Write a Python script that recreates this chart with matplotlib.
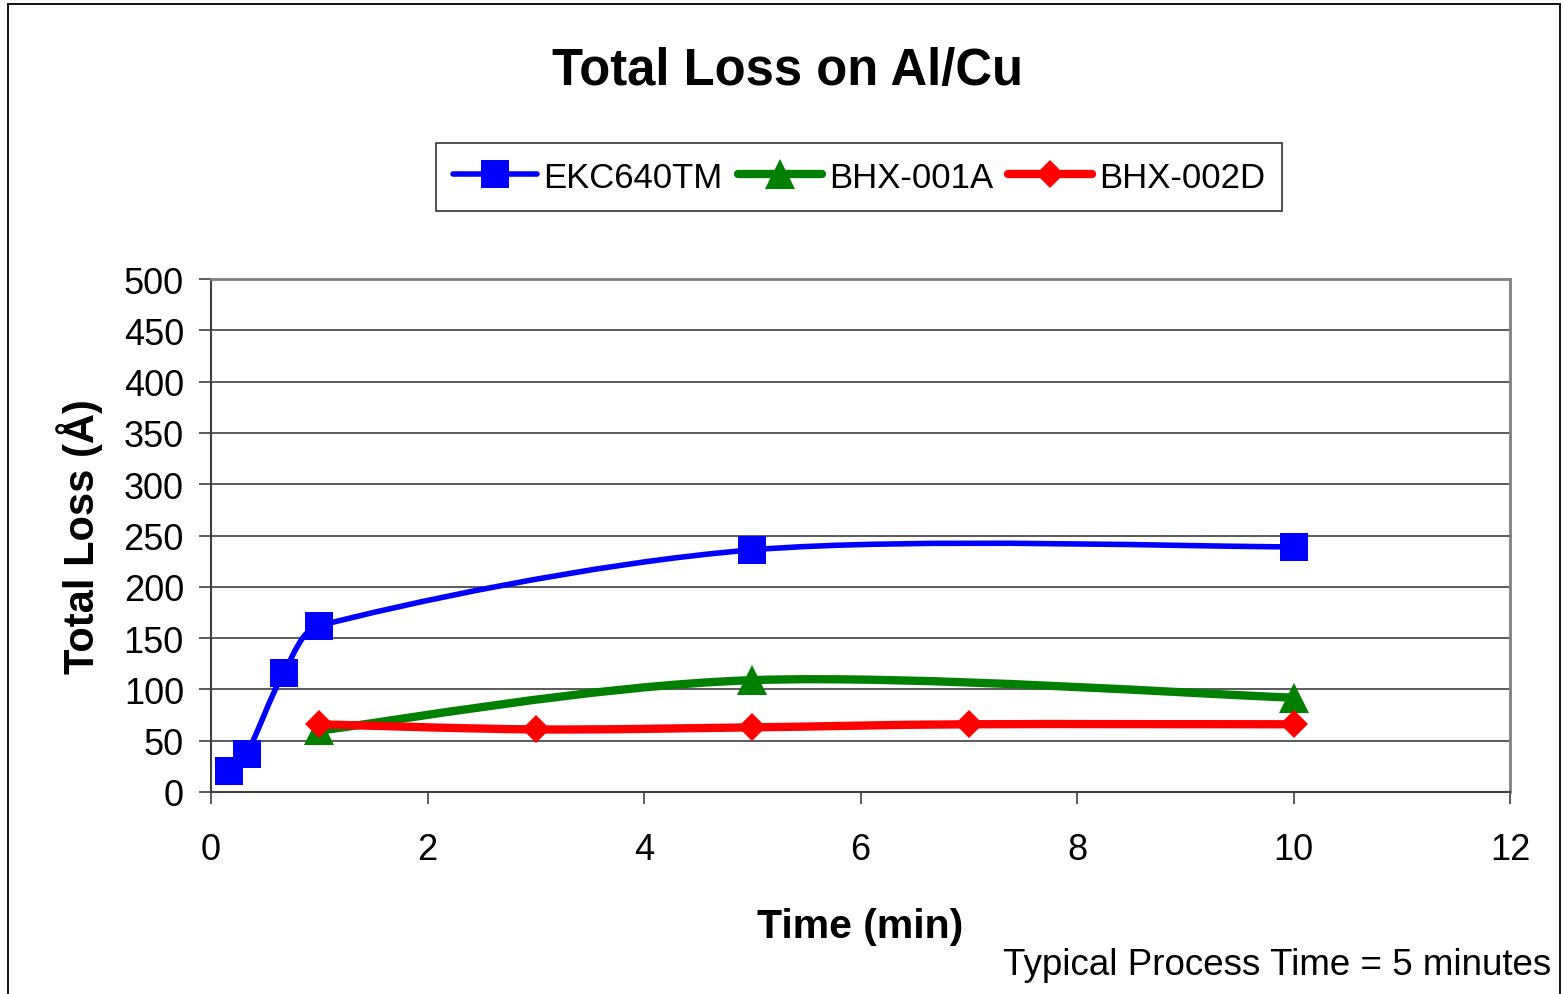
import matplotlib
matplotlib.use("Agg")
import matplotlib.pyplot as plt
from matplotlib.path import Path
from matplotlib.patches import PathPatch, Rectangle
from matplotlib.lines import Line2D

plt.rcParams['font.family'] = ['Liberation Sans', 'DejaVu Sans']

# data
ekc_t = [0.17, 0.33, 0.67, 1, 5, 10]
ekc_loss = [20, 37, 116, 162, 236, 239]
bhx1_t = [1, 5, 10]
bhx1_loss = [60, 109, 92]
bhx2_t = [1, 3, 5, 7, 10]
bhx2_loss = [66, 61, 63, 66, 66]

series = [
    ("EKC640TM", ekc_t, ekc_loss, "#0000ff", "s", 19.5, 4),
    ("BHX-001A", bhx1_t, bhx1_loss, "#008000", "^", 21, 6),
    ("BHX-002D", bhx2_t, bhx2_loss, "#ff0000", "D", 14.5, 6),
]


def smooth_path(xs, ys, t=1 / 6):
    # Excel style smoothed line: Catmull-Rom as cubic Bezier segments,
    # control handles kept inside their segment so nothing loops back
    pts = list(zip(xs, ys))
    n = len(pts)
    verts = [pts[0]]
    codes = [Path.MOVETO]
    for i in range(n - 1):
        p0 = pts[i - 1] if i > 0 else pts[i]
        p1 = pts[i]
        p2 = pts[i + 1]
        p3 = pts[i + 2] if i + 2 < n else pts[i + 1]
        half = (p2[0] - p1[0]) / 2
        d1 = [(p2[0] - p0[0]) * t, (p2[1] - p0[1]) * t]
        d2 = [(p3[0] - p1[0]) * t, (p3[1] - p1[1]) * t]
        for d in (d1, d2):
            if d[0] > half:
                k = half / d[0]
                d[0] *= k
                d[1] *= k
        c1 = (p1[0] + d1[0], p1[1] + d1[1])
        c2 = (p2[0] - d2[0], p2[1] - d2[1])
        verts += [c1, c2, p2]
        codes += [Path.CURVE4] * 3
    return Path(verts, codes)


fig = plt.figure(figsize=(15.63, 9.95), dpi=100)
ax = fig.add_axes([211 / 1563, 1 - 793 / 995, (1510 - 211) / 1563, (793 - 280) / 995])

handles = []
for name, xs, ys, col, mk, ms, lw in series:
    ax.add_patch(PathPatch(smooth_path(xs, ys), facecolor="none", edgecolor=col,
                           lw=lw, capstyle="round", joinstyle="round", zorder=3))
    ax.plot(xs, ys, linestyle="none", marker=mk, ms=ms, color=col,
            markeredgewidth=0, zorder=4)
    handles.append(Line2D([], [], color=col, lw=lw, marker=mk, ms=ms,
                          markeredgewidth=0, solid_capstyle="round"))

ax.set_xlim(0, 12)
ax.set_ylim(0, 500)
ax.set_xticks(range(0, 13, 2))
ax.set_yticks(range(0, 501, 50))
ax.yaxis.grid(True, color="#4d4d4d", lw=1.3)
ax.set_axisbelow(True)
for s in ["left", "bottom"]:
    ax.spines[s].set_color("#404040")
    ax.spines[s].set_linewidth(1.5)
for s in ["top", "right"]:
    ax.spines[s].set_color("#808080")
    ax.spines[s].set_linewidth(2)
ax.tick_params(axis="both", direction="out", length=8.5, width=1.2,
               color="#404040", labelsize=26)
ax.tick_params(axis="y", pad=11)
ax.tick_params(axis="x", pad=20)

ax.set_xlabel("Time (min)", fontsize=29.5, fontweight="bold", labelpad=29)
ax.set_ylabel("Total Loss (Å)", fontsize=30, fontweight="bold", labelpad=15)

fig.text(787 / 1563, 1 - 72 / 995, "Total Loss on Al/Cu", fontsize=36.5,
         fontweight="bold", ha="center", va="center")

leg = fig.legend(handles, [s[0] for s in series], loc="center",
                 bbox_to_anchor=(859 / 1563, 1 - 178 / 995), ncol=3,
                 fontsize=25, frameon=True, fancybox=False, handlelength=2.4,
                 handletextpad=0.2, columnspacing=0.45, borderpad=0.5)
leg.get_frame().set_edgecolor("black")
leg.get_frame().set_linewidth(1.2)

fig.text(1551 / 1563, 1 - 966 / 995, "Typical Process Time = 5 minutes",
         fontsize=26.5, ha="right", va="center")

fig.add_artist(Rectangle((8 / 1563, -0.02), (1560 - 8) / 1563, 1 - 5 / 995 + 0.02,
                         transform=fig.transFigure, fill=False,
                         edgecolor="black", lw=1.3))

fig.savefig("out.png", dpi=100)
